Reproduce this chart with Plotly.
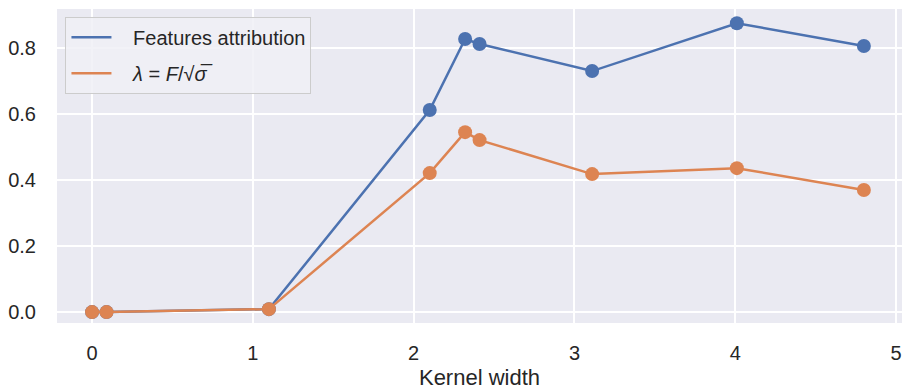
import plotly.graph_objects as go

# Kernel widths tested and the resulting scores
kernel_width = [0.0, 0.09, 1.10, 2.10, 2.32, 2.41, 3.11, 4.01, 4.80]
features_attribution = [0.0, 0.0, 0.009, 0.612, 0.827, 0.812, 0.730, 0.875, 0.806]
lambda_score = [0.0, 0.0, 0.009, 0.421, 0.545, 0.521, 0.418, 0.436, 0.370]

series_names = ["Features attribution", "<i>λ</i> = <i>F</i>/√<i>σ̅</i>"]
x_ticks = [0, 1, 2, 3, 4, 5]
y_ticks = [0.0, 0.2, 0.4, 0.6, 0.8]

BLUE = "#4C72B0"
ORANGE = "#DD8452"
FONT = "Liberation Sans, Arial, sans-serif"
TEXT = "#262626"
PAD = "\u00a0\u00a0\u00a0"  # gap between legend line and label

fig = go.Figure()
for values, name, color in zip([features_attribution, lambda_score], series_names, [BLUE, ORANGE]):
    # data with markers
    fig.add_trace(go.Scatter(
        x=kernel_width, y=values, mode="lines+markers",
        line=dict(color=color, width=2.5),
        marker=dict(color=color, size=14),
        showlegend=False, name=name,
    ))
    # legend entry drawn as a plain line
    fig.add_trace(go.Scatter(
        x=[None], y=[None], mode="lines", name=PAD + name,
        line=dict(color=color, width=2.5),
        legendgroup=name, showlegend=True,
    ))

fig.update_layout(
    width=902, height=390,
    margin=dict(l=57, r=0, t=9, b=67),
    paper_bgcolor="white",
    plot_bgcolor="#EAEAF2",
    font=dict(family=FONT, size=20, color=TEXT),
    legend=dict(
        x=0.01, y=0.975, xanchor="left", yanchor="top",
        bgcolor="rgba(240,240,246,0.85)",
        bordercolor="#CCCCCC", borderwidth=1,
        font=dict(size=20, color=TEXT),
        itemwidth=40, tracegroupgap=7,
    ),
)
fig.update_xaxes(
    range=[-0.218, 5.037], tickvals=x_ticks,
    showgrid=True, gridcolor="white", gridwidth=1.5,
    zeroline=False, showline=False,
    ticks="outside", ticklen=12, tickcolor="rgba(0,0,0,0)",
    title=dict(text="Kernel width", font=dict(size=22), standoff=9),
    tickfont=dict(size=20),
)
fig.update_yaxes(
    range=[-0.033, 0.918], tickvals=y_ticks, tickformat=".1f",
    showgrid=True, gridcolor="white", gridwidth=1.5,
    zeroline=False, showline=False,
    ticks="outside", ticklen=16, tickcolor="rgba(0,0,0,0)",
    tickfont=dict(size=20),
)

fig.write_html("out.html")
